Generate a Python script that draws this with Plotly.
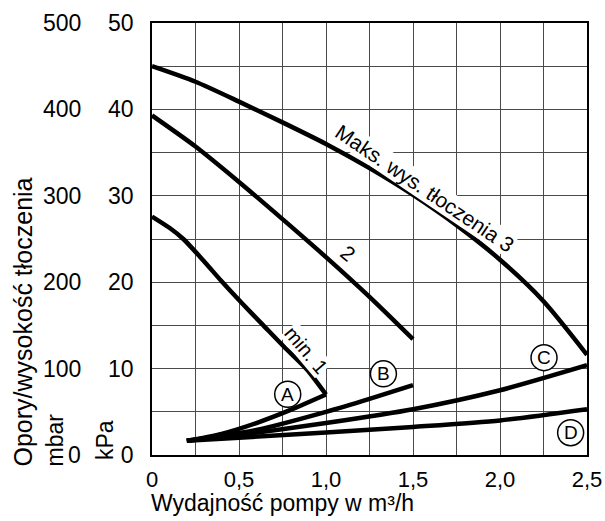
import plotly.graph_objects as go

# ---- data (kPa vs m3/h) ----
flow_max = [0.0, 0.25, 0.5, 0.75, 1.0, 1.25, 1.5, 1.75, 2.0, 2.25, 2.5]
head_max = [45.0, 43.2, 40.9, 38.5, 36.0, 33.2, 30.1, 26.6, 22.6, 17.8, 11.6]

flow_2 = [0.0, 0.25, 0.5, 0.75, 1.0, 1.25, 1.5]
head_2 = [39.3, 35.7, 31.6, 27.3, 22.9, 18.3, 13.4]

flow_1 = [0.0, 0.1, 0.18, 0.3, 0.4, 0.52, 0.64, 0.76, 0.89, 1.0]
head_1 = [27.6, 26.3, 25.0, 22.4, 20.1, 17.5, 15.0, 12.5, 9.9, 7.0]

flow_A = [0.2, 0.4, 0.6, 0.8, 1.0]
head_A = [1.65, 2.45, 3.7, 5.25, 7.0]

flow_B = [0.2, 0.6, 1.0, 1.25, 1.5]
head_B = [1.65, 2.9, 5.0, 6.5, 8.1]

flow_C = [0.2, 0.5, 1.0, 1.5, 2.0, 2.5]
head_C = [1.65, 2.3, 3.7, 5.3, 7.5, 10.4]

flow_D = [0.2, 0.5, 1.0, 1.5, 2.0, 2.5]
head_D = [1.65, 2.0, 2.6, 3.25, 4.0, 5.3]

x_grid = [0, 0.25, 0.5, 0.75, 1.0, 1.25, 1.5, 1.75, 2.0, 2.25, 2.5]
x_ticktext = ["0", "", "0,5", "", "1,0", "", "1,5", "", "2,0", "", "2,5"]
kpa_grid = [0, 5, 10, 15, 20, 25, 30, 35, 40, 45, 50]
kpa_ticktext = ["0", "", "10", "", "20", "", "30", "", "40", "", "50"]
mbar_ticks = [0, 100, 200, 300, 400, 500]
MBAR_PER_KPA = 10

letters = ["A", "B", "C", "D"]
letter_x = [0.78, 1.33, 2.253, 2.406]
letter_y = [7.03, 9.39, 11.27, 2.58]

FONT = "Liberation Sans, Arial, sans-serif"
W, H = 605, 521
ML, MR, MT, MB = 152, 18, 23, 66
PW = W - ML - MR
PH = H - MT - MB

def px_x(p):
    # absolute pixel -> paper fraction
    return (p - ML) / PW

def px_y(p):
    return (H - MB - p) / PH

fig = go.Figure()
for xs, ys in [(flow_max, head_max), (flow_2, head_2), (flow_1, head_1),
               (flow_A, head_A), (flow_B, head_B), (flow_C, head_C), (flow_D, head_D)]:
    fig.add_trace(go.Scatter(x=xs, y=ys, mode="lines",
                             line=dict(color="black", width=4.5, shape="spline", smoothing=0.7),
                             hoverinfo="skip", showlegend=False))

grid_col = "#4a4a4a"

fig.update_layout(
    width=W, height=H,
    margin=dict(l=ML, r=MR, t=MT, b=MB, pad=0, autoexpand=False),
    paper_bgcolor="white", plot_bgcolor="white",
    font=dict(family=FONT, size=23, color="black"),
    xaxis=dict(range=[0, 2.5], automargin=False,
               tickmode="array", tickvals=x_grid, ticktext=x_ticktext, ticks="",
               tickfont=dict(size=22),
               showgrid=True, gridcolor=grid_col, gridwidth=1,
               showline=True, linecolor="black", linewidth=1.5, mirror=True,
               zeroline=False, ticklabelstandoff=4, fixedrange=True),
    yaxis=dict(range=[0, 50], automargin=False,
               tickmode="array", tickvals=kpa_grid, ticktext=kpa_ticktext,
               ticks="", showgrid=True, gridcolor=grid_col, gridwidth=1,
               showline=True, linecolor="black", linewidth=1.5, mirror=True,
               zeroline=False, ticklabelstandoff=12, fixedrange=True),
)

ann = []
# mbar tick labels (second scale, 10 mbar = 1 kPa)
for v in mbar_ticks:
    ann.append(dict(text=str(v), xref="paper", yref="y", x=px_x(83), y=v / MBAR_PER_KPA,
                    xanchor="right", yanchor="middle", showarrow=False, font=dict(size=23)))
# axis titles
ann.append(dict(text="Wydajność pompy w m³/h", xref="paper", yref="paper",
                x=px_x(149), y=px_y(488), xanchor="left", yanchor="top",
                showarrow=False, font=dict(size=23)))
ann.append(dict(text="Opory/wysokość tłoczenia", xref="paper", yref="paper",
                x=px_x(22), y=px_y(469), xanchor="center", yanchor="bottom",
                textangle=-90, showarrow=False, font=dict(size=25)))
ann.append(dict(text="mbar", xref="paper", yref="paper",
                x=px_x(54), y=px_y(469), xanchor="center", yanchor="bottom",
                textangle=-90, showarrow=False, font=dict(size=23)))
ann.append(dict(text="kPa", xref="paper", yref="paper",
                x=px_x(105), y=px_y(462), xanchor="center", yanchor="bottom",
                textangle=-90, showarrow=False, font=dict(size=23)))
# curve labels
ann.append(dict(text="Maks. wys. tłoczenia 3", x=1.57, y=30.9, xref="x", yref="y",
                textangle=34, showarrow=False, bgcolor="white", borderpad=0,
                font=dict(size=21)))
ann.append(dict(text="2", x=1.127, y=23.3, xref="x", yref="y",
                textangle=40, showarrow=False, bgcolor="white", borderpad=0,
                font=dict(size=21)))
ann.append(dict(text="min. 1", x=0.886, y=12.15, xref="x", yref="y",
                textangle=50, showarrow=False, bgcolor="white", borderpad=0,
                font=dict(size=20)))

shapes = []
for t, cx, cy in zip(letters, letter_x, letter_y):
    shapes.append(dict(type="circle", xref="x", yref="y", xsizemode="pixel", ysizemode="pixel",
                       xanchor=cx, yanchor=cy, x0=-13, x1=13, y0=-13, y1=13,
                       line=dict(color="black", width=1.5), fillcolor="white", layer="above"))
    ann.append(dict(text=t, x=cx, y=cy, xref="x", yref="y", showarrow=False,
                    font=dict(size=19)))

fig.update_layout(annotations=ann, shapes=shapes)
fig.write_html("out.html")
